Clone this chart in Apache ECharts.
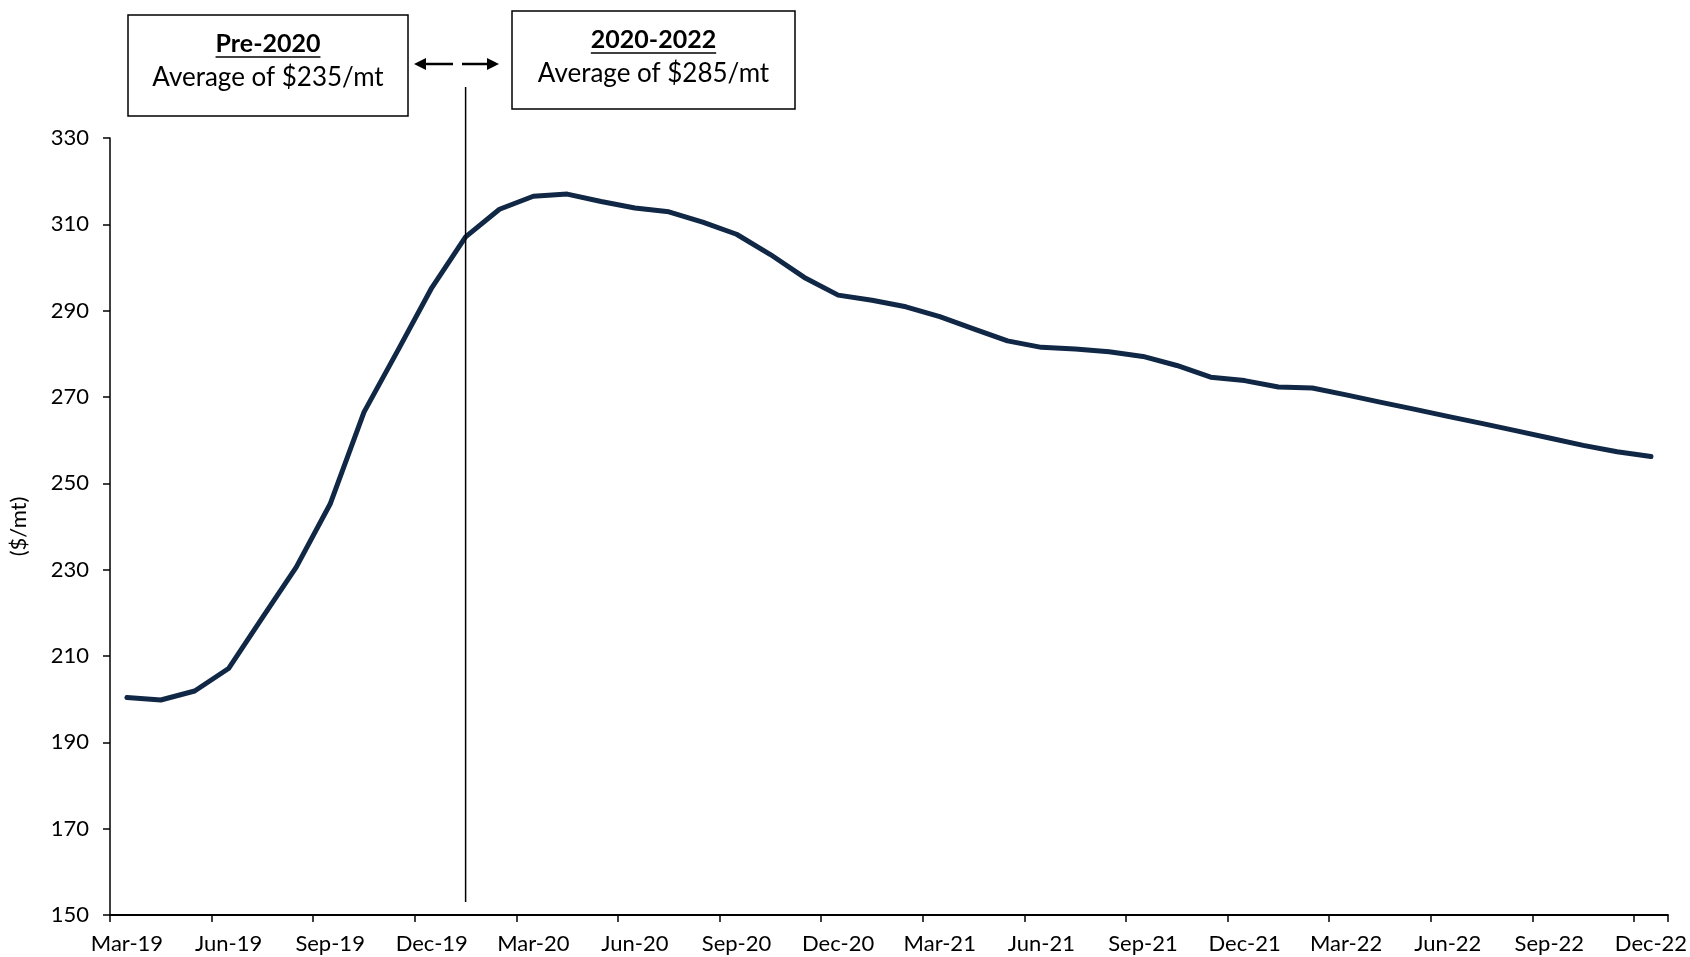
<!DOCTYPE html>
<html><head><meta charset="utf-8">
<script src="https://cdn.jsdelivr.net/npm/echarts@6/dist/echarts.min.js"></script>
<style>html,body{margin:0;padding:0;background:#fff}#c{width:1690px;height:957px}</style>
</head><body><div id="c"></div>
<script>
const categories = ['Mar-19','Apr-19','May-19','Jun-19','Jul-19','Aug-19','Sep-19','Oct-19','Nov-19','Dec-19',
  'Jan-20','Feb-20','Mar-20','Apr-20','May-20','Jun-20','Jul-20','Aug-20','Sep-20','Oct-20','Nov-20','Dec-20',
  'Jan-21','Feb-21','Mar-21','Apr-21','May-21','Jun-21','Jul-21','Aug-21','Sep-21','Oct-21','Nov-21','Dec-21',
  'Jan-22','Feb-22','Mar-22','Apr-22','May-22','Jun-22','Jul-22','Aug-22','Sep-22','Oct-22','Nov-22','Dec-22'];
const prices = [200.4,199.8,201.9,207.1,218.9,230.6,245.2,266.5,280.8,295.3,
  307.1,313.5,316.5,317.0,315.3,313.8,312.9,310.5,307.7,303.0,297.7,293.6,
  292.4,290.9,288.6,285.8,283.0,281.5,281.1,280.5,279.4,277.3,274.6,273.8,
  272.3,272.1,270.5,268.8,267.2,265.5,263.9,262.2,260.5,258.8,257.3,256.2];
const yMin = 150, yMax = 330, yStep = 20;
const yAxisTitle = '($/mt)';
const dividerCategory = 'Jan-20';
const boxTitles = ['Pre-2020', '2020-2022'];
const boxTexts = ['Average of $235/mt', 'Average of $285/mt'];

const FONT = 'Lato';
const chart = echarts.init(document.getElementById('c'));
chart.setOption({
  backgroundColor: '#fff',
  animation: false,
  grid: { left: 106, right: 19, top: 138, bottom: 42 },
  xAxis: {
    type: 'category', data: categories, boundaryGap: true,
    axisLine: { lineStyle: { color: '#000', width: 2 } },
    axisTick: { show: true, interval: 2, length: 7, lineStyle: { color: '#000', width: 1.5 } },
    axisLabel: { interval: 2, color: '#000', fontFamily: FONT, fontSize: 22, margin: 18 },
    splitLine: { show: false }
  },
  yAxis: {
    type: 'value', min: yMin, max: yMax, interval: yStep,
    name: yAxisTitle, nameLocation: 'middle', nameGap: 80, nameRotate: 90,
    nameTextStyle: { color: '#000', fontFamily: FONT, fontSize: 22 },
    axisLine: { show: true, lineStyle: { color: '#000', width: 1.5 } },
    axisTick: { show: true, length: 7, lineStyle: { color: '#000', width: 1.5 } },
    axisLabel: { color: '#000', fontFamily: FONT, fontSize: 22, margin: 21 },
    splitLine: { show: false }
  },
  series: [{
    type: 'line', data: prices, symbol: 'none', smooth: false,
    lineStyle: { color: '#102845', width: 5, cap: 'round', join: 'round' }
  }]
});

const ctx = document.createElement('canvas').getContext('2d');
function textW(str, font) { ctx.font = font; return ctx.measureText(str).width; }

const dx = chart.convertToPixel({ xAxisIndex: 0 }, dividerCategory);
const yTop = chart.convertToPixel({ yAxisIndex: 0 }, 341.8);
const yBot = chart.convertToPixel({ yAxisIndex: 0 }, 153);

const boxes = [
  { x: 128, y: 15, w: 280, h: 101, ty: 44, sy: 78 },
  { x: 512, y: 11, w: 283, h: 98, ty: 40, sy: 74 }
];
const TITLE_FONT = 'bold 25px ' + FONT;
const BODY_FONT = '26px ' + FONT;
const graphics = [];
boxes.forEach((b, i) => {
  graphics.push({ type: 'rect', shape: { x: b.x, y: b.y, width: b.w, height: b.h },
    style: { fill: '#fff', stroke: '#000', lineWidth: 1.5 }, z: 10 });
  const cx = b.x + b.w / 2;
  graphics.push({ type: 'text', x: cx, y: b.ty, z: 11,
    style: { text: boxTitles[i], font: TITLE_FONT, fill: '#000', textAlign: 'center', textVerticalAlign: 'middle' } });
  const tw = textW(boxTitles[i], TITLE_FONT);
  graphics.push({ type: 'line', z: 11, shape: { x1: cx - tw / 2, y1: b.ty + 13, x2: cx + tw / 2, y2: b.ty + 13 },
    style: { stroke: '#000', lineWidth: 1.5 } });
  graphics.push({ type: 'text', x: cx, y: b.sy, z: 11,
    style: { text: boxTexts[i], font: BODY_FONT, fill: '#000', textAlign: 'center', textVerticalAlign: 'middle' } });
});
graphics.push({ type: 'line', z: 5, shape: { x1: dx, y1: yTop, x2: dx, y2: yBot }, style: { stroke: '#000', lineWidth: 1.5 } });
const ay = 64;
graphics.push({ type: 'line', z: 12, shape: { x1: 424, y1: ay, x2: 453, y2: ay }, style: { stroke: '#000', lineWidth: 2.5 } });
graphics.push({ type: 'polygon', z: 12, shape: { points: [[414, ay], [426, ay - 6], [426, ay + 6]] }, style: { fill: '#000' } });
graphics.push({ type: 'line', z: 12, shape: { x1: 462, y1: ay, x2: 489, y2: ay }, style: { stroke: '#000', lineWidth: 2.5 } });
graphics.push({ type: 'polygon', z: 12, shape: { points: [[499, ay], [487, ay - 6], [487, ay + 6]] }, style: { fill: '#000' } });

chart.setOption({ graphic: graphics });
</script>
</body></html>
